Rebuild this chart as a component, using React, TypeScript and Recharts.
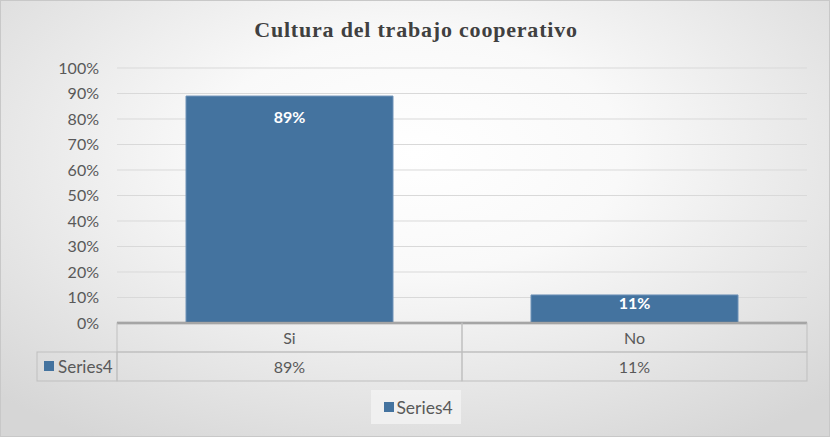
import React from 'react';
import { BarChart, Bar, XAxis, YAxis, CartesianGrid, Legend, LabelList } from 'recharts';

const categories = ['Si', 'No'];
const series4 = [0.89, 0.11];
const yTicks = [0, 0.1, 0.2, 0.3, 0.4, 0.5, 0.6, 0.7, 0.8, 0.9, 1];
const seriesName = 'Series4';
const chartTitle = 'Cultura del trabajo cooperativo';

const data = categories.map((name, i) => ({ name, value: series4[i] }));

const W = 830;
const H = 437;
const LEFT = 117;
const RIGHT = 23;
const PLOT_W = W - LEFT - RIGHT;
const ROW_H = 29;
const BAR_COLOR = '#44739f';
const TEXT = '#595959';
const TABLE_LINE = '#bfbfbf';
const FONT = 'Lato, "Noto Sans", sans-serif';

const pct = (v: number) => `${Math.round(v * 100)}%`;

// category axis drawn as the data table under the plot
const TableTick = (props: any) => {
  const { x, y, payload, index } = props;
  const bw = PLOT_W / categories.length;
  const x0 = x - bw / 2;
  const val = series4[index];
  return (
    <g>
      <rect x={x0} y={y} width={bw} height={ROW_H} fill="none" stroke={TABLE_LINE} />
      <rect x={x0} y={y + ROW_H} width={bw} height={ROW_H} fill="none" stroke={TABLE_LINE} />
      <text x={x} y={y + ROW_H / 2 + 6} textAnchor="middle" fill={TEXT} fontSize={16} fontFamily={FONT}>
        {payload.value}
      </text>
      <text x={x} y={y + ROW_H * 1.5 + 6} textAnchor="middle" fill={TEXT} fontSize={16} fontFamily={FONT}>
        {pct(val)}
      </text>
      {index === 0 && (
        <g>
          <rect x={x0 - 80} y={y + ROW_H} width={80} height={ROW_H} fill="none" stroke={TABLE_LINE} />
          <rect x={x0 - 73} y={y + ROW_H + 9} width={10} height={10} fill={BAR_COLOR} />
          <text x={x0 - 59} y={y + ROW_H * 1.5 + 6} fill={TEXT} fontSize={17} fontFamily={FONT}>
            {seriesName}
          </text>
        </g>
      )}
    </g>
  );
};

const BarLabel = (props: any) => {
  const { x, y, width, height, value } = props;
  const cy = y + Math.min(21, height * 0.3);
  return (
    <text x={x + width / 2} y={cy + 6} textAnchor="middle" fill="#ffffff" fontSize={16} fontWeight="bold" fontFamily={FONT}>
      {pct(value)}
    </text>
  );
};

const LegendBox = () => (
  <div style={{ display: 'flex', justifyContent: 'center' }}>
    <div
      style={{
        display: 'flex',
        alignItems: 'center',
        height: 34,
        padding: '0 8px 0 13px',
        background: 'rgba(242,242,242,0.85)',
        fontFamily: FONT,
        fontSize: 17.5,
        color: TEXT,
      }}
    >
      <span style={{ width: 10, height: 10, background: BAR_COLOR, marginRight: 2, display: 'inline-block' }} />
      <span>{seriesName}</span>
    </div>
  </div>
);

export default function App() {
  return (
    <div
      style={{
        position: 'absolute',
        left: 0,
        top: 0,
        width: W,
        height: H,
        boxSizing: 'border-box',
        border: '1px solid #c8c8c8',
        background: 'radial-gradient(ellipse 72% 78% at 50% 35%, #ffffff 0%, #f9f9f9 35%, #d6d6d6 100%)',
      }}
    >
      <div
        style={{
          position: 'absolute',
          left: 0,
          top: 16,
          width: W,
          textAlign: 'center',
          fontFamily: '"Liberation Serif", "Times New Roman", serif',
          fontWeight: 'bold',
          fontSize: 22,
          letterSpacing: 0.8,
          color: '#404040',
        }}
      >
        {chartTitle}
      </div>
      <div style={{ position: 'absolute', left: -1, top: -1 }}>
        <BarChart
          width={W}
          height={H}
          data={data}
          margin={{ top: 68, right: RIGHT, left: 0, bottom: 22 }}
          barCategoryGap="20%"
        >
          <CartesianGrid horizontal vertical={false} stroke="#d9d9d9" />
          <YAxis
            width={LEFT}
            domain={[0, 1]}
            ticks={yTicks}
            tickFormatter={pct}
            axisLine={false}
            tickLine={false}
            tickSize={0}
            tickMargin={18}
            tick={{ fill: TEXT, fontSize: 16, fontFamily: FONT }}
          />
          <XAxis
            dataKey="name"
            height={ROW_H * 2}
            axisLine={{ stroke: '#8a8a8a', strokeWidth: 2.5 }}
            tickLine={false}
            tickSize={0}
            tickMargin={0}
            tick={<TableTick />}
            interval={0}
          />
          <Legend
            verticalAlign="bottom"
            height={34}
            wrapperStyle={{ bottom: 13, left: 0, width: W + 2 }}
            content={<LegendBox />}
          />
          <Bar dataKey="value" name={seriesName} fill={BAR_COLOR} stroke="#6f93b8" strokeWidth={1} isAnimationActive={false}>
            <LabelList dataKey="value" content={<BarLabel />} />
          </Bar>
        </BarChart>
      </div>
    </div>
  );
}
